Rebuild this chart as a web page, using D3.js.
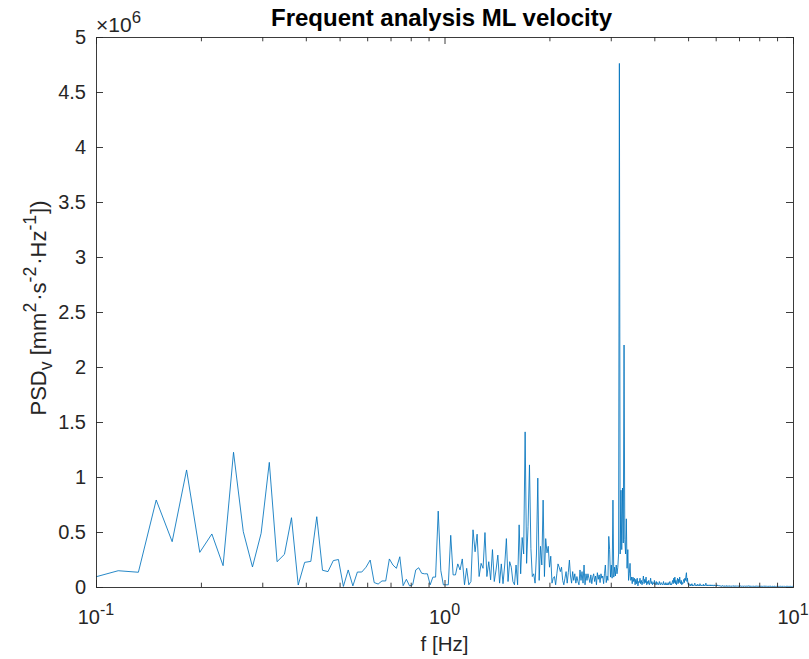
<!DOCTYPE html>
<html><head><meta charset="utf-8">
<script src="https://cdn.jsdelivr.net/npm/d3@7"></script>
<style>
body{margin:0;background:#fff}
text{font-family:"Liberation Sans",Arial,Helvetica,sans-serif;fill:#262626}
</style>
</head><body>
<svg id="chart" width="809" height="659"></svg>
<script>
// ---------- data ----------
const titleText = "Frequent analysis ML velocity";
const xLabelText = "f [Hz]";
const freqStep = 0.01654;   // Hz per FFT bin
const firstBin = 6;         // first plotted bin
// PSD values in thousands of mm^2·s^-2·Hz^-1, bins 6 .. 605
const psdThousands = [
 90,148,134,791,412,1064,315,482,194,1225,
 503,182,488,1133,230,297,630,18,224,233,
 639,152,140,240,250,5,155,10,136,136,
 180,245,40,27,55,55,255,200,170,275,
 12,70,10,20,155,175,125,120,120,20,
 90,90,690,150,20,20,20,470,110,110,
 210,155,255,20,170,20,50,520,320,480,
 95,215,170,495,95,230,65,340,50,155,
 290,35,210,30,200,440,50,230,180,50,
 20,200,20,565,120,450,300,1410,215,550,
 1110,350,95,120,35,300,990,60,370,200,
 790,95,440,310,370,180,280,35,80,95,
 20,120,210,180,140,180,60,20,80,140,
 35,130,245,100,35,140,60,120,35,95,
 50,20,155,60,140,35,200,20,120,60,
 120,80,40,110,30,90,120,50,100,20,
 130,70,110,40,120,80,100,30,120,200,
 40,100,60,460,340,90,200,80,790,90,
 180,100,200,120,180,300,4760,300,880,340,
 900,400,2200,430,300,620,170,340,60,120,
 215,60,90,30,90,50,80,20,70,30,
 80,10,50,
 40,80,30,60,20,50,100,30,70,40,
 90,20,50,30,60,20,40,80,30,50,
 20,40,30,60,20,30,50,20,40,30,
 20,50,30,20,40,30,20,30,50,20,
 30,20,40,
 20,30,20,40,20,30,50,20,30,20,
 40,60,30,80,40,90,30,60,20,50,
 80,30,70,40,90,50,30,60,20,40,
 30,50,70,40,80,60,100,130,50,
 80,30,
 20,30,15,20,10,25,15,30,10,20,
 15,10,20,35,15,10,20,10,15,25,
 10,20,15,10,30,20,10,15,10,20,
 15,10,25,10,15,10,20,35,15,10,
 20,10,15,10,20,15,10,20,10,15,
 10,20,10,15,10,10,20,10,15,10,
 10,15,10,20,10,15,10,10,15,10,
 8,12,6,10,5,9,14,7,11,6,
 9,5,12,8,6,10,7,13,5,9,
 7,11,6,8,12,5,9,7,10,6,
 8,5,11,7,9,6,13,8,5,10,
 7,9,6,11,5,8,10,6,9,7,
 5,10,7,8,12,6,9,5,8,7,
 10,6,8,5,9,7,11,6,8,5,
 7,9,6,10,5,8,6,9,7,12,
 6,8,5,9,7,6,10,5,8,7,
 9,5,7,6,10,8,5,9,6,7,
 8,6,11,5,7,9,6,8,5,10,
 6,7,5,9,8,6,7,10,5,8,
 7,5,8,6,9,7,5,8,6,11,
 5,8,6,7,5,9,7,6,8,5,
 9,6,7,5,8,6,10,5,7,6,
 7,5,9,6,7,8,5,6,9,5,
 6,8,5,7,6,9,5,7,6,8,
 5,7,6,8,5,6,9,5,7,6,
 8,5,6,7,5,8,6,5,7,9,
 6,5,7,5,8,6,5,7,6,5,
 7,6,5,8,5,6,7,5,6,8,
 5,6,7,5,6,5,8,6,5,7,
 6,5,7,6,5,8,5,6,7,5,
 5,7,6
];
const xDomain = [0.1, 10];
const xMajorExponents = [-1, 0, 1];
const yDomain = [0, 5e6];
const yTicks = [0, 0.5e6, 1e6, 1.5e6, 2e6, 2.5e6, 3e6, 3.5e6, 4e6, 4.5e6, 5e6];
const yExponent = 6;

// ---------- layout ----------
const W = 809, H = 659;
const plot = {left: 96, right: 793, top: 37, bottom: 587};
const lineColor = "#0072BD", axisColor = "#262626";
const tickFont = 20, labelFont = 20.5, yLabelFont = 22, titleFont = 24;
const supScale = 0.8;

const data = psdThousands.map((v, i) => ({f: (firstBin + i) * freqStep, p: v * 1000}));

const svg = d3.select("#chart");
const x = d3.scaleLog().domain(xDomain).range([plot.left, plot.right]);
const y = d3.scaleLinear().domain(yDomain).range([plot.bottom, plot.top]);

svg.append("defs").append("clipPath").attr("id", "clip")
  .append("rect").attr("x", plot.left).attr("y", plot.top)
  .attr("width", plot.right - plot.left).attr("height", plot.bottom - plot.top);

// line
const line = d3.line().x(d => x(d.f)).y(d => y(d.p));
svg.append("path").datum(data)
  .attr("clip-path", "url(#clip)")
  .attr("fill", "none").attr("stroke", lineColor)
  .attr("stroke-width", 0.85).attr("stroke-linejoin", "round")
  .attr("d", line);

// ticks
const majors = xMajorExponents.map(e => Math.pow(10, e));
const minors = [];
for (let e = -1; e < 1; e++) for (let m = 2; m <= 9; m++) minors.push(m * Math.pow(10, e));

function styleAxis(g) {
  g.select(".domain").remove();
  g.selectAll("line").attr("stroke", axisColor).attr("stroke-width", 0.9);
}
svg.append("g").attr("transform", `translate(0,${plot.bottom})`)
  .call(d3.axisBottom(x).tickValues(majors).tickSize(-7).tickFormat("")).call(styleAxis);
svg.append("g").attr("transform", `translate(0,${plot.bottom})`)
  .call(d3.axisBottom(x).tickValues(minors).tickSize(-4.3).tickFormat("")).call(styleAxis);
svg.append("g").attr("transform", `translate(0,${plot.top})`)
  .call(d3.axisTop(x).tickValues(majors).tickSize(-7).tickFormat("")).call(styleAxis);
svg.append("g").attr("transform", `translate(0,${plot.top})`)
  .call(d3.axisTop(x).tickValues(minors).tickSize(-4.3).tickFormat("")).call(styleAxis);

const yl = svg.append("g").attr("transform", `translate(${plot.left},0)`)
  .call(d3.axisLeft(y).tickValues(yTicks).tickSize(-7).tickPadding(10)
    .tickFormat(d => String(d / Math.pow(10, yExponent))));
yl.select(".domain").remove();
yl.selectAll("line").attr("stroke", axisColor).attr("stroke-width", 0.9);
yl.selectAll("text").attr("font-size", tickFont).attr("font-family", null).style("fill", axisColor);
svg.append("g").attr("transform", `translate(${plot.right},0)`)
  .call(d3.axisRight(y).tickValues(yTicks).tickSize(-7).tickFormat("")).call(styleAxis);

// box
svg.append("rect").attr("x", plot.left).attr("y", plot.top)
  .attr("width", plot.right - plot.left).attr("height", plot.bottom - plot.top)
  .attr("fill", "none").attr("stroke", axisColor).attr("stroke-width", 0.9)
  .attr("shape-rendering", "crispEdges");

// x tick labels 10^e
const xt = svg.append("g");
xMajorExponents.forEach(e => {
  const t = xt.append("text").attr("x", x(Math.pow(10, e))).attr("y", plot.bottom + 37)
    .attr("text-anchor", "middle").attr("font-size", tickFont);
  t.append("tspan").text("10");
  t.append("tspan").attr("dy", -9).attr("font-size", tickFont * supScale).text(String(e));
});

// exponent marker
const ex = svg.append("text").attr("x", plot.left).attr("y", plot.top - 5)
  .attr("font-size", 21);
ex.append("tspan").text("\u00D710");
ex.append("tspan").attr("dy", -9).attr("font-size", 21 * supScale).text(String(yExponent));

// title
svg.append("text").attr("x", (plot.left + plot.right) / 2 - 3).attr("y", 26)
  .attr("text-anchor", "middle").attr("font-size", titleFont).attr("font-weight", "bold")
  .style("fill", "#000").text(titleText);

// x label
svg.append("text").attr("x", (plot.left + plot.right) / 2).attr("y", plot.bottom + 64)
  .attr("text-anchor", "middle").attr("font-size", labelFont).text(xLabelText);

// y label
const ylab = svg.append("text")
  .attr("transform", `translate(46,${(plot.top + plot.bottom) / 2 - 4}) rotate(-90)`)
  .attr("text-anchor", "middle").attr("font-size", yLabelFont);
const sub = yLabelFont * supScale;
ylab.append("tspan").text("PSD");
ylab.append("tspan").attr("font-size", sub).attr("dy", 6).text("v");
ylab.append("tspan").attr("dy", -6).text(" [mm");
ylab.append("tspan").attr("font-size", sub).attr("dy", -10).text("2");
ylab.append("tspan").attr("dy", 10).attr("dx", 2).text("\u00B7s");
ylab.append("tspan").attr("font-size", sub).attr("dy", -10).text("-2");
ylab.append("tspan").attr("dy", 10).attr("dx", 2).text("\u00B7Hz");
ylab.append("tspan").attr("font-size", sub).attr("dy", -10).text("-1");
ylab.append("tspan").attr("dy", 10).attr("dx", 1).text("])");
</script>
</body></html>
